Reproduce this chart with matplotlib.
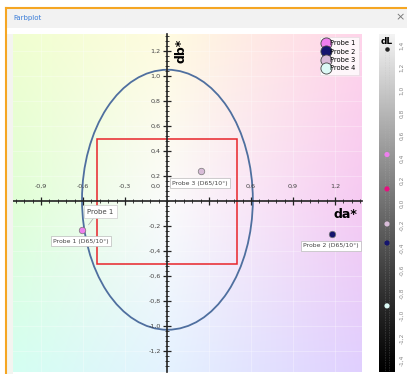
import numpy as np
import matplotlib
matplotlib.use("Agg")
import matplotlib.pyplot as plt
from matplotlib.colors import to_rgb
from matplotlib.patches import Ellipse, Rectangle
from matplotlib.lines import Line2D

W, H = 407, 374

# sample data (da*, db*, dL)
probes = ["Probe 1", "Probe 2", "Probe 3", "Probe 4"]
probe_colors = ["#ee7fee", "#15156e", "#d8bcd8", "#dcfaf6"]
da = [-0.607, 1.18, 0.243]
db = [-0.232, -0.264, 0.24]
point_labels = ["Probe 1 (D65/10°)", "Probe 2 (D65/10°)", "Probe 3 (D65/10°)"]
dl_vals = [0.43, 0.125, -0.186, -0.355, -0.913]
dl_colors = ["#ee7fee", "#e8107f", "#d8bcd8", "#15156e", "#dcfaf6"]

# tolerance ellipse and box
ell_w, ell_h = 1.22, 2.08
box_half = 0.5

x_ticks = [-0.9, -0.6, -0.3, 0.0, 0.3, 0.6, 0.9, 1.2]
y_ticks = [1.2, 1.0, 0.8, 0.6, 0.4, 0.2, 0.0, -0.2, -0.4, -0.6, -0.8, -1.0, -1.2]
dl_ticks = [1.4, 1.2, 1.0, 0.8, 0.6, 0.4, 0.2, 0.0, -0.2, -0.4, -0.6, -0.8, -1.0, -1.2, -1.4]

# background tint of the a*/b* plane: rows top -> bottom, columns left -> right
plane_colors = [["#f0ffd0", "#fffbe0", "#ffd4ea"],
                ["#e0ffd6", "#fbfbfb", "#f6caf2"],
                ["#d4fff2", "#e4f2ff", "#e0d0ff"]]


def px_axes(fig, x0, y0, x1, y1):
    return fig.add_axes([x0 / W, 1 - y1 / H, (x1 - x0) / W, (y1 - y0) / H])


def fmt(v):
    return ("%.1f" % v).replace(".", ",")


def plane_image(xlim, ylim, n=300):
    ctrl = np.array([[to_rgb(c) for c in row] for row in plane_colors])
    xs = np.linspace(xlim[0], xlim[1], n)
    ys = np.linspace(ylim[1], ylim[0], n)
    cx = [xlim[0], 0.0, xlim[1]]
    cy = [ylim[1], 0.0, ylim[0]]
    # interpolate along x for each control row, then along y
    rows = np.stack([np.stack([np.interp(xs, cx, ctrl[r, :, k]) for k in range(3)], -1)
                     for r in range(3)])
    img = np.empty((n, n, 3))
    for k in range(3):
        for j in range(n):
            img[:, j, k] = np.interp(-ys, [-v for v in cy], rows[:, j, k])
    return img


fig = plt.figure(figsize=(W / 100, H / 100), dpi=100)
fig.patch.set_facecolor("white")

# window frame
fig.patches.append(Rectangle((6 / W, 1 - 28 / H), 1, 19 / H, transform=fig.transFigure,
                             fc="#f2f2f2", ec="none", zorder=0))
fig.patches.append(Rectangle((7 / W, 0), 6 / W, 1 - 34 / H, transform=fig.transFigure,
                             fc="#f4f4f0", ec="none", zorder=0))
fig.add_artist(Line2D([6 / W, 1], [1 - 8 / H, 1 - 8 / H], transform=fig.transFigure,
                      color="#f5a623", lw=1.5))
fig.add_artist(Line2D([6 / W, 6 / W], [0, 1 - 8 / H], transform=fig.transFigure,
                      color="#f5a623", lw=1.5))
fig.text(13 / W, 1 - 18 / H, "Farbplot", color="#3b7dd8", fontsize=5, va="center")
fig.text(400 / W, 1 - 17 / H, "×", color="#777777", fontsize=8, va="center", ha="center")

# main colour plane
ax = px_axes(fig, 13, 34, 362, 372)
xlim = ((13 - 167) / 140, (362 - 167) / 140)
ylim = ((201 - 372) / 125, (201 - 34) / 125)

ax.imshow(plane_image(xlim, ylim), extent=[xlim[0], xlim[1], ylim[0], ylim[1]],
          aspect="auto", zorder=0)

for v in x_ticks:
    ax.axvline(v, color="white", lw=0.6, alpha=0.35, zorder=1)
for v in y_ticks:
    ax.axhline(v, color="white", lw=0.6, alpha=0.35, zorder=1)

ax.set_xlim(*xlim)
ax.set_ylim(*ylim)

for s in ["top", "right"]:
    ax.spines[s].set_visible(False)
ax.spines["left"].set_position(("data", 0))
ax.spines["bottom"].set_position(("data", 0))
for s in ["left", "bottom"]:
    ax.spines[s].set_color("#222222")
    ax.spines[s].set_linewidth(1.2)
    ax.spines[s].set_zorder(4)

ax.set_xticks([t for t in x_ticks if t != 0])
ax.set_xticks(np.arange(-1.08, 1.39, 0.06), minor=True)
ax.set_yticks([t for t in y_ticks if t != 0])
ax.set_yticks(np.arange(-1.32, 1.33, 0.04), minor=True)
ax.tick_params(which="major", direction="inout", length=6, width=0.9, color="#222222",
               labelleft=False, labelbottom=False)
ax.tick_params(which="minor", direction="inout", length=3, width=0.6, color="#222222")

for v in x_ticks:
    if v == 0:
        continue
    ax.text(v, 0.095, fmt(v), fontsize=4.6, color="#444444", ha="center", va="bottom", zorder=5)
for v in y_ticks:
    if v == 0:
        ax.text(-0.045, 0.095, fmt(v), fontsize=4.6, color="#444444", ha="right", va="bottom", zorder=5)
    else:
        ax.text(-0.045, v, fmt(v), fontsize=4.6, color="#444444", ha="right", va="center", zorder=5)

ax.text(1.36, -0.06, "da*", fontsize=9, fontweight="bold", ha="right", va="top", zorder=5)
ax.text(0.055, 1.3, "db*", fontsize=9, fontweight="bold", rotation=90, ha="left", va="top", zorder=5)

ax.add_patch(Ellipse((0.003, 0.01), ell_w, ell_h, fill=False, ec="#4f6f9f", lw=1.3, zorder=3))
ax.add_patch(Rectangle((-box_half, -box_half), 2 * box_half, 2 * box_half, fill=False,
                       ec="#e8242a", lw=1.1, zorder=3))

for x, y, c in zip(da, db, probe_colors[:3]):
    ax.scatter(x, y, s=22, color=c, edgecolor="#777777", linewidth=0.5, zorder=6)

box_style = dict(boxstyle="square,pad=0.35", fc="white", ec="#bbbbbb", lw=0.5)
label_pos = [(-0.614, -0.32), (1.17, -0.36), (0.236, 0.144)]
for (x, y), t in zip(label_pos, point_labels):
    ax.text(x, y, t, fontsize=4.4, color="#444444", ha="center", va="center", bbox=box_style, zorder=7)

ax.plot([-0.56, -0.52], [-0.19, -0.13], color="#aaaaaa", lw=0.5, zorder=6)
ax.text(-0.475, -0.085, "Probe 1", fontsize=5, color="#444444", ha="center", va="center",
        bbox=dict(boxstyle="square,pad=0.5", fc="white", ec="#cccccc", lw=0.5), zorder=7)

handles = [Line2D([], [], marker="o", ls="none", markersize=8, markerfacecolor=c,
                  markeredgecolor="#444444", markeredgewidth=0.6) for c in probe_colors]
leg = ax.legend(handles, probes, loc="upper right", bbox_to_anchor=(0.995, 0.995), fontsize=4.8,
                frameon=True, fancybox=False, edgecolor="#dddddd", handletextpad=0.1,
                borderpad=0.5, labelspacing=0.35, handlelength=1.0, borderaxespad=0.2)
leg.get_frame().set_linewidth(0.5)
leg.set_zorder(8)

# dL bar
bx = px_axes(fig, 379, 34, 395, 372)
grad = np.linspace(0.96, 0.0, 256) ** 1.1
bx.imshow(np.stack([grad, grad, grad], axis=-1)[:, None, :], extent=[0, 1, -1.5, 1.5], aspect="auto")
bx.set_xlim(0, 1)
bx.set_ylim(-1.5, 1.5)
bx.set_xticks([])
bx.set_yticks([])
for s in bx.spines.values():
    s.set_visible(False)
for v in [0.35, 0.65]:
    bx.axvline(v, color="#bbbbbb", lw=0.4, ls=(0, (1, 2)), alpha=0.6)
bx.text(0.5, 1.47, "dL", fontsize=6.5, fontweight="bold", ha="center", va="top")
bx.scatter(0.5, 1.37, s=5, color="#222222", zorder=3)
for v, c in zip(dl_vals, dl_colors):
    bx.scatter(0.5, v, s=14, color=c, edgecolor="none", zorder=3)

for v in dl_ticks:
    bx.text(1.25, v, fmt(v), fontsize=4.2, color="#888888", rotation=90, ha="left", va="center",
            transform=bx.transData, clip_on=False)

fig.savefig("out.png", dpi=100)
